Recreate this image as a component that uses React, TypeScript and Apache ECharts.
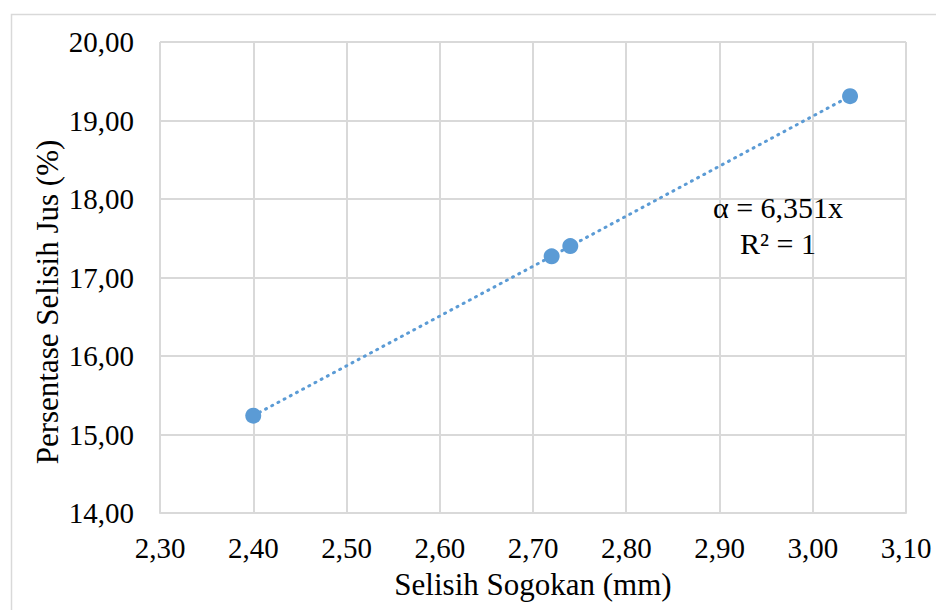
import React, { useEffect, useRef } from "react";
import * as echarts from "echarts";

const xValues = [2.4, 2.72, 2.74, 3.04];
const yValues = [15.24, 17.27, 17.4, 19.31];
const equationLines = ["α = 6,351x", "R² = 1"];
const xAxisTitle = "Selisih Sogokan (mm)";
const yAxisTitle = "Persentase Selisih Jus (%)";

const FONT = "Liberation Serif";
const BLUE = "#5b9bd5";
const GRID = "#d9d9d9";

const fmt = (v: number) => v.toFixed(2).replace(".", ",");

export default function App() {
  const ref = useRef<HTMLDivElement>(null);
  useEffect(() => {
    document.body.style.margin = "0";
    const chart = echarts.init(ref.current!, null, { renderer: "svg" });
    const pts = xValues.map((x, i) => [x, yValues[i]]);
    chart.setOption({
      animation: false,
      backgroundColor: "#ffffff",
      textStyle: { fontFamily: FONT },
      grid: { left: 160, top: 42, right: 30, bottom: 97 },
      xAxis: {
        type: "value",
        min: 2.3,
        max: 3.1,
        interval: 0.1,
        name: xAxisTitle,
        nameLocation: "middle",
        nameGap: 56,
        nameTextStyle: { fontFamily: FONT, fontSize: 31, color: "#000" },
        axisLine: { show: true, lineStyle: { color: GRID, width: 2 } },
        axisTick: { show: false },
        splitLine: { show: true, lineStyle: { color: GRID, width: 2 } },
        axisLabel: {
          formatter: (v: number) => fmt(v),
          fontFamily: FONT,
          fontSize: 29,
          color: "#000",
          margin: 20,
        },
      },
      yAxis: {
        type: "value",
        min: 14,
        max: 20,
        interval: 1,
        axisLine: { show: false },
        axisTick: { show: false },
        splitLine: { show: true, lineStyle: { color: GRID, width: 2 } },
        axisLabel: {
          formatter: (v: number) => fmt(v),
          fontFamily: FONT,
          fontSize: 29,
          color: "#000",
          margin: 26,
        },
      },
      graphic: [
        {
          type: "rect",
          left: 9,
          top: 12,
          shape: { width: 960, height: 640 },
          style: { fill: "none", stroke: GRID, lineWidth: 1.5 },
          silent: true,
          z: -10,
        },
        {
          type: "text",
          x: 47,
          y: 302,
          rotation: Math.PI / 2,
          style: {
            text: yAxisTitle,
            fontFamily: FONT,
            fontSize: 31,
            fill: "#000",
            align: "center",
            verticalAlign: "middle",
          },
          z: 20,
        },
        {
          type: "text",
          x: 778,
          y: 225,
          style: {
            text: equationLines.join("\n"),
            fontFamily: FONT,
            fontSize: 30,
            fill: "#000",
            align: "center",
            verticalAlign: "middle",
            lineHeight: 36,
          },
          z: 20,
        },
      ],
      series: [
        {
          type: "line",
          data: pts,
          showSymbol: false,
          symbol: "none",
          lineStyle: { color: BLUE, width: 3, type: [1, 6], cap: "round" },
          silent: true,
          z: 2,
        },
        {
          type: "scatter",
          data: pts,
          symbolSize: 16,
          itemStyle: { color: BLUE, opacity: 1 },
          z: 3,
        },
      ],
    });
    return () => chart.dispose();
  }, []);
  return (
    <div
      ref={ref}
      style={{ position: "absolute", left: 0, top: 0, width: 936, height: 610 }}
    />
  );
}
